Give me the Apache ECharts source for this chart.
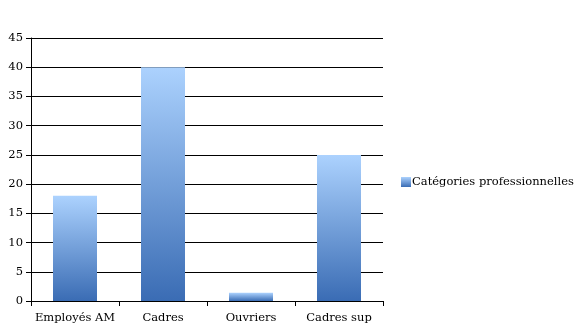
<!DOCTYPE html>
<html><head><meta charset="utf-8">
<script src="https://cdn.jsdelivr.net/npm/echarts@6/dist/echarts.min.js"></script>
<style>html,body{margin:0;padding:0;background:#fff}#c{width:576px;height:336px}</style>
</head><body><div id="c"></div>
<script>
const categories = ["Employés AM", "Cadres", "Ouvriers", "Cadres sup"];
const values = [18, 40, 1.4, 25];
const seriesName = "Catégories professionnelles";
const yTicks = { min: 0, max: 45, interval: 5 };

const grad = new echarts.graphic.LinearGradient(0, 0, 0, 1, [
  { offset: 0, color: "#acd2fe" },
  { offset: 1, color: "#3a6cb4" }
]);
const font = "DejaVu Serif";
const chart = echarts.init(document.getElementById("c"));
chart.setOption({
  animation: false,
  textStyle: { fontFamily: font },
  grid: { left: 31, right: 193, top: 38, bottom: 35 },
  legend: {
    data: [seriesName], left: 396, top: 171, orient: "vertical",
    itemWidth: 10, itemHeight: 10, itemGap: 4,
    textStyle: { fontFamily: font, fontSize: 11.5, color: "#000", padding: [0, 0, 0, -4] },
    icon: "rect"
  },
  xAxis: {
    type: "category", data: categories,
    axisLine: { lineStyle: { color: "#000", width: 1 } },
    axisTick: { show: true, length: 5, lineStyle: { color: "#000" }, alignWithLabel: false },
    axisLabel: { color: "#000", fontSize: 11.5, fontFamily: font, margin: 11, interval: 0 }
  },
  yAxis: {
    type: "value", min: yTicks.min, max: yTicks.max, interval: yTicks.interval,
    axisLine: { show: true, lineStyle: { color: "#000", width: 1 } },
    axisTick: { show: true, length: 5, lineStyle: { color: "#000" } },
    axisLabel: { color: "#000", fontSize: 11.5, fontFamily: font, margin: 8 },
    splitLine: { lineStyle: { color: "#000", width: 1 } }
  },
  series: [{
    name: seriesName, type: "bar", data: values, barWidth: "50%",
    itemStyle: { color: grad }
  }]
});
</script></body></html>
